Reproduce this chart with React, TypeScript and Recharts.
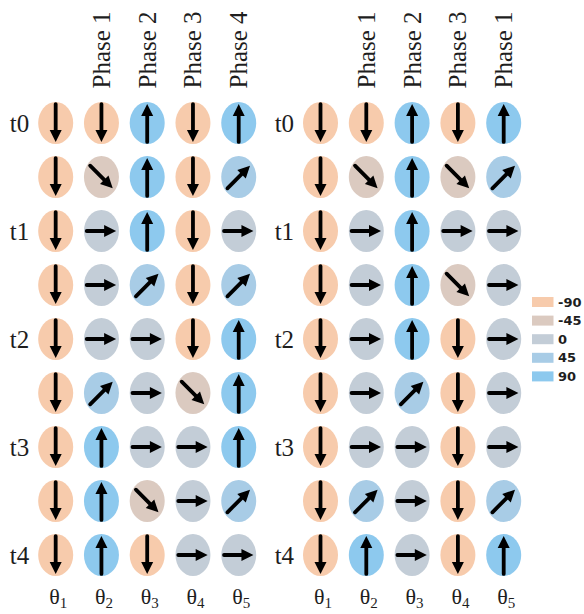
import React from 'react';
import { ScatterChart, Scatter, XAxis, YAxis, Legend } from 'recharts';

// ---- data ----
const LEVELS = [-90, -45, 0, 45, 90];
const LEVEL_COLORS = ['#F7CBAC', '#DBCAC0', '#C3CDD7', '#A8CCE6', '#8DC9EE'];
const LEVEL_LABELS = ['-90', '-45', '0', '45', '90'];

const THETA_SUBSCRIPTS = ['1', '2', '3', '4', '5'];
const COLUMN_POSITIONS = [1, 2, 3, 4, 5];
const ROW_POSITIONS = [0, 1, 2, 3, 4, 5, 6, 7, 8];
const ROW_TICKS = [0, 2, 4, 6, 8];
const ROW_LABELS = ['t0', 't1', 't2', 't3', 't4'];

const PHASE_TICKS = [2, 3, 4, 5];
const PHASES_LEFT = ['Phase 1', 'Phase 2', 'Phase 3', 'Phase 4'];
const PHASES_RIGHT = ['Phase 1', 'Phase 2', 'Phase 3', 'Phase 1'];

const ANGLES_LEFT = [
  [-90, -90, 90, -90, 90],
  [-90, -45, 90, -90, 45],
  [-90, 0, 90, -90, 0],
  [-90, 0, 45, -90, 45],
  [-90, 0, 0, -90, 90],
  [-90, 45, 0, -45, 90],
  [-90, 90, 0, 0, 90],
  [-90, 90, -45, 0, 45],
  [-90, 90, -90, 0, 0],
];

const ANGLES_RIGHT = [
  [-90, -90, 90, -90, 90],
  [-90, -45, 90, -45, 45],
  [-90, 0, 90, 0, 0],
  [-90, 0, 90, -45, 0],
  [-90, 0, 90, -90, 0],
  [-90, 0, 45, -90, 0],
  [-90, 0, 0, -90, 0],
  [-90, 45, 0, -90, 45],
  [-90, 90, 0, -90, 90],
];

const buildPoints = (angles: number[][]) =>
  ROW_POSITIONS.flatMap((r) =>
    COLUMN_POSITIONS.map((c, ci) => ({ x: c, y: r, angle: angles[r][ci] }))
  );

// ---- styling ----
const SERIF = 'Liberation Serif, Times New Roman, serif';
const TEXT = '#1e1e1e';
const RX = 17.5;
const RY = 21;
const HEAD_L = 12;
const HEAD_HW = 6;

const colorFor = (a: number) => LEVEL_COLORS[LEVELS.indexOf(a)];

const Cell = (props: any) => {
  const { cx, cy, payload } = props;
  if (cx == null || cy == null) return null;
  const a = payload.angle as number;
  const rad = (a * Math.PI) / 180;
  const dx = Math.cos(rad);
  const dy = -Math.sin(rad);
  const r = 1 / Math.sqrt((dx * dx) / (RX * RX) + (dy * dy) / (RY * RY));
  const half = r * (Math.abs(dy) > 0.99 ? 0.9 : 0.84);
  const tipX = cx + dx * half;
  const tipY = cy + dy * half;
  const tailX = cx - dx * half;
  const tailY = cy - dy * half;
  const baseX = tipX - dx * HEAD_L;
  const baseY = tipY - dy * HEAD_L;
  const px = -dy;
  const py = dx;
  const head = `${tipX},${tipY} ${baseX + px * HEAD_HW},${baseY + py * HEAD_HW} ${baseX - px * HEAD_HW},${baseY - py * HEAD_HW}`;
  return (
    <g>
      <ellipse cx={cx} cy={cy} rx={RX} ry={RY} fill={colorFor(a)} />
      <line
        x1={tailX}
        y1={tailY}
        x2={baseX + dx * 1.5}
        y2={baseY + dy * 1.5}
        stroke="#000"
        strokeWidth={3.8}
        strokeLinecap="round"
      />
      <polygon points={head} fill="#000" />
    </g>
  );
};

const EmptyShape = () => <g />;

const ThetaTick = (props: any) => {
  const { x, y, payload } = props;
  const sub = THETA_SUBSCRIPTS[COLUMN_POSITIONS.indexOf(payload.value)];
  return (
    <text x={x + 2.5} y={y + 22} textAnchor="middle" style={{ fontFamily: SERIF }} fontSize={22} fill={TEXT}>
      <tspan>θ</tspan>
      <tspan fontSize={15} dy={3.5}>{sub}</tspan>
    </text>
  );
};

const makePhaseTick = (labels: string[]) => (props: any) => {
  const { x, payload } = props;
  const label = labels[PHASE_TICKS.indexOf(payload.value)];
  if (!label) return <g />;
  return (
    <text
      transform={`translate(${x},${88.5}) rotate(-90)`}
      dy="0.34em"
      textAnchor="start"
      style={{ fontFamily: SERIF, fontSize: 25 }}
      fill={TEXT}
    >
      {label}
    </text>
  );
};

const RowTick = (props: any) => {
  const { x, y, payload } = props;
  const label = ROW_LABELS[ROW_TICKS.indexOf(payload.value)];
  return (
    <text x={x - 3.5} y={y} dy="0.34em" textAnchor="end" style={{ fontFamily: SERIF, fontSize: 25 }} fill={TEXT}>
      {label}
    </text>
  );
};

const LegendContent = () => (
  <svg width={56} height={100} style={{ display: 'block', overflow: 'visible' }}>
    {LEVEL_LABELS.map((lab, i) => {
      const cy = 10 + i * 18.6;
      return (
        <g key={lab}>
          <rect x={0} y={cy - 5} width={21.5} height={10} fill={LEVEL_COLORS[i]} />
          <text
            x={26}
            y={cy}
            dy="0.36em"
            style={{ fontFamily: 'DejaVu Sans, sans-serif', fontWeight: 'bold', fontSize: 13 }}
            fill={TEXT}
          >
            {lab}
          </text>
        </g>
      );
    })}
  </svg>
);

type GridProps = {
  width: number;
  yAxisWidth: number;
  marginRight: number;
  data: { x: number; y: number; angle: number }[];
  phases: string[];
  withLegend?: boolean;
  legendLeft?: number;
};

const Grid = ({ width, yAxisWidth, marginRight, data, phases, withLegend, legendLeft }: GridProps) => {
  const PhaseTick = makePhaseTick(phases);
  return (
    <ScatterChart width={width} height={614} margin={{ top: 0, right: marginRight, bottom: 0, left: 0 }}>
      <XAxis
        xAxisId="bottom"
        dataKey="x"
        type="number"
        domain={[0.5, 5.5]}
        ticks={COLUMN_POSITIONS}
        height={32}
        axisLine={false}
        tickLine={false}
        tickSize={0}
        tickMargin={0}
        tick={<ThetaTick />}
        interval={0}
      />
      <XAxis
        xAxisId="top"
        orientation="top"
        dataKey="x"
        type="number"
        domain={[0.5, 5.5]}
        ticks={PHASE_TICKS}
        height={96}
        axisLine={false}
        tickLine={false}
        tickSize={0}
        tickMargin={0}
        tick={<PhaseTick />}
        interval={0}
      />
      <YAxis
        dataKey="y"
        type="number"
        domain={[-0.5, 8.5]}
        reversed
        ticks={ROW_TICKS}
        width={yAxisWidth}
        axisLine={false}
        tickLine={false}
        tickSize={0}
        tickMargin={0}
        tick={<RowTick />}
        interval={0}
      />
      <Scatter xAxisId="top" data={data} shape={<EmptyShape />} isAnimationActive={false} />
      <Scatter xAxisId="bottom" data={data} shape={<Cell />} isAnimationActive={false} />
      {withLegend && (
        <Legend
          layout="vertical"
          align="center"
          verticalAlign="middle"
          wrapperStyle={{ left: legendLeft, top: 292, width: 56, height: 100 }}
          content={<LegendContent />}
        />
      )}
    </ScatterChart>
  );
};

const LEFT_DATA = buildPoints(ANGLES_LEFT);
const RIGHT_DATA = buildPoints(ANGLES_RIGHT);

export default function App() {
  return (
    <div style={{ position: 'absolute', left: 0, top: 0, width: 584, height: 614, background: '#fff' }}>
      <div style={{ position: 'absolute', left: 0, top: 0 }}>
        <Grid width={270} yAxisWidth={32.8} marginRight={8.4} data={LEFT_DATA} phases={PHASES_LEFT} />
      </div>
      <div style={{ position: 'absolute', left: 264, top: 0 }}>
        <Grid
          width={320}
          yAxisWidth={33.6}
          marginRight={57.4}
          data={RIGHT_DATA}
          phases={PHASES_RIGHT}
          withLegend
          legendLeft={268}
        />
      </div>
    </div>
  );
}
